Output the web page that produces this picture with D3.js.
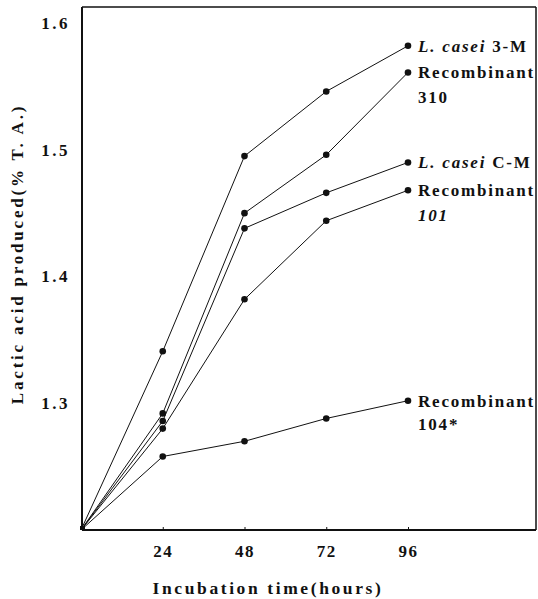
<!DOCTYPE html>
<html>
<head>
<meta charset="utf-8">
<script src="https://cdn.jsdelivr.net/npm/d3@7/dist/d3.min.js"></script>
<style>
  html, body { margin: 0; padding: 0; background: #fff; }
  svg { display: block; }
  text { font-family: "Liberation Serif", "DejaVu Serif", serif; font-weight: bold; fill: #111; }
</style>
</head>
<body>
<script>
const hours = [0, 24, 48, 72, 96];
const xTicks = [24, 48, 72, 96];
const yTicks = [1.3, 1.4, 1.5, 1.6];
const casei3M = [1.2, 1.341, 1.495, 1.546, 1.582];
const recomb310 = [1.2, 1.292, 1.450, 1.496, 1.561];
const caseiCM = [1.2, 1.286, 1.438, 1.466, 1.490];
const recomb101 = [1.2, 1.280, 1.382, 1.444, 1.468];
const recomb104 = [1.2, 1.258, 1.270, 1.288, 1.302];
const seriesNames = ["L. casei 3-M", "Recombinant 310", "L. casei C-M", "Recombinant 101", "Recombinant 104*"];
const seriesValues = [casei3M, recomb310, caseiCM, recomb101, recomb104];

(function () {
const W = 538, H = 599;
const svg = d3.select("body").append("svg").attr("width", W).attr("height", H);

const x = d3.scaleLinear().domain([0, 96]).range([81, 408]);
const y = d3.scaleLinear().domain([1.2, 1.6]).range([530, 23]);

const fLeft = 82, fRight = 536, fTop = 7, fBottom = 530;

// frame
svg.append("line").attr("x1", fLeft).attr("x2", fRight).attr("y1", fTop).attr("y2", fTop)
  .attr("stroke", "#111").attr("stroke-width", 1.5);
svg.append("line").attr("x1", fRight).attr("x2", fRight).attr("y1", fTop).attr("y2", fBottom)
  .attr("stroke", "#111").attr("stroke-width", 1.5);
svg.append("line").attr("x1", fLeft).attr("x2", fLeft).attr("y1", fTop).attr("y2", fBottom)
  .attr("stroke", "#111").attr("stroke-width", 2);
svg.append("line").attr("x1", fLeft).attr("x2", fRight).attr("y1", fBottom).attr("y2", fBottom)
  .attr("stroke", "#111").attr("stroke-width", 2);

// x axis ticks
const xAxis = d3.axisBottom(x).tickValues(xTicks).tickSize(-3).tickPadding(15).tickFormat(d3.format("d"));
const gx = svg.append("g").attr("transform", `translate(0,${fBottom})`).call(xAxis);
gx.select(".domain").remove();
gx.selectAll(".tick line").attr("stroke", "#111");
gx.selectAll("text").attr("font-size", 17).attr("letter-spacing", 1.5)
  .style("font-family", '"Liberation Serif", serif').style("font-weight", "bold").attr("fill", "#111");

// y axis labels
const yAxis = d3.axisLeft(y).tickValues(yTicks).tickSize(0).tickPadding(12).tickFormat(d3.format(".1f"));
const gy = svg.append("g").attr("transform", `translate(${fLeft},0)`).call(yAxis);
gy.select(".domain").remove();
gy.selectAll("text").attr("font-size", 17).attr("letter-spacing", 2.5)
  .style("font-family", '"Liberation Serif", serif').style("font-weight", "bold").attr("fill", "#111");

// axis titles
svg.append("text").attr("x", 268).attr("y", 594).attr("text-anchor", "middle")
  .attr("font-size", 17.5).attr("letter-spacing", 2.6).text("Incubation time(hours)");
svg.append("text").attr("transform", "translate(23,254) rotate(-90)").attr("text-anchor", "middle")
  .attr("font-size", 17).attr("letter-spacing", 2.8).text("Lactic acid produced(% T. A.)");

// lines
const line = d3.line().x((d, i) => x(hours[i])).y(d => y(d));
seriesValues.forEach(vals => {
  svg.append("path").datum(vals).attr("d", line)
    .attr("fill", "none").attr("stroke", "#111").attr("stroke-width", 1);
  svg.selectAll(null).data(vals.slice(1)).enter().append("circle")
    .attr("cx", (d, i) => x(hours[i + 1])).attr("cy", d => y(d)).attr("r", 3.3).attr("fill", "#111");
});
svg.append("rect").attr("x", x(0) - 1).attr("y", y(1.2) - 4).attr("width", 5).attr("height", 4).attr("fill", "#111");

// end labels
const lx = 418;
function lab(yy, parts) {
  const tx = svg.append("text").attr("x", lx).attr("y", yy).attr("font-size", 17).attr("letter-spacing", 1.8);
  parts.forEach(p => tx.append("tspan").attr("font-style", p[1] ? "italic" : "normal").text(p[0]));
}
lab(y(casei3M[4]) + 6, [["L. casei", true], [" 3-M", false]]);
lab(y(recomb310[4]) + 6, [["Recombinant", false]]);
lab(y(recomb310[4]) + 31, [["310", false]]);
lab(y(caseiCM[4]) + 6, [["L. casei", true], [" C-M", false]]);
lab(y(recomb101[4]) + 6, [["Recombinant", false]]);
lab(y(recomb101[4]) + 31, [["101", true]]);
lab(y(recomb104[4]) + 6, [["Recombinant", false]]);
lab(y(recomb104[4]) + 29, [["104*", false]]);
})();
</script>
</body>
</html>
